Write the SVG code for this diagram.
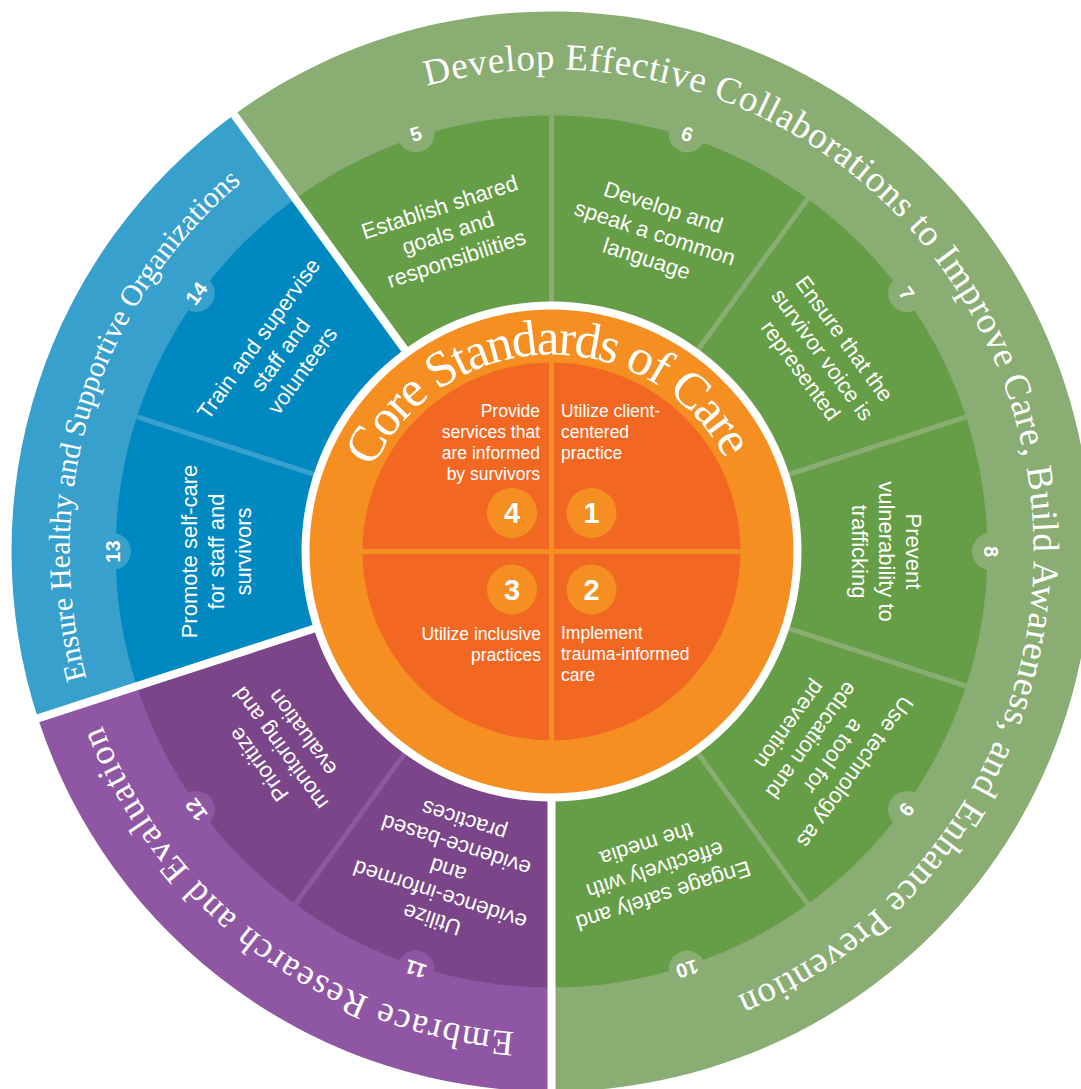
<svg xmlns="http://www.w3.org/2000/svg" width="1081" height="1089" viewBox="0 0 1081 1089">
<style>
.seg{font-family:"Liberation Sans",Arial,sans-serif;font-size:22px;fill:#fff;text-anchor:middle}
.num{font-family:"Liberation Sans",Arial,sans-serif;font-weight:bold;font-size:20px;fill:#fff;text-anchor:middle}
.inn{font-family:"Liberation Sans",Arial,sans-serif;font-size:17.5px;fill:#fff}
.bnum{font-family:"Liberation Sans",Arial,sans-serif;font-weight:bold;font-size:29px;fill:#fff;text-anchor:middle}
.arc{font-family:"Liberation Serif","DejaVu Serif",serif;fill:#fff;font-size:37px}
.core{font-family:"Liberation Serif","DejaVu Serif",serif;fill:#fff;font-size:51px}
.gO{fill:#8AAD74}.gM{fill:#669E47}.pO{fill:#8F57A3}.pM{fill:#7A4689}.bO{fill:#38A0CC}.bM{fill:#0089C1}
.lg{stroke:#8AAD74;stroke-width:5}.lp{stroke:#8F57A3;stroke-width:5}.lb{stroke:#38A0CC;stroke-width:5}
.wsep{stroke:#fff;stroke-width:8}
</style>
<defs>
<path id="pGreen" d="M426.75 85.92 A482 482 0 0 1 700.45 1009.91"/>
<path id="pPurple" d="M514.52 1032.08 A482 482 0 0 1 93.09 700.45"/>
<path id="pBlue" d="M86.58 678.69 A482 482 0 0 1 268.19 161.55"/>
<path id="pCore" d="M372.96 468.24 A197 197 0 0 1 745.51 517.29"/>
</defs>
<rect width="1081" height="1089" fill="#fff"/>
<g id="outer-ring">
<path class="gO" d="M551.5 551.5 L234.09 114.63 A540 540 0 1 1 551.5 1091.5 Z"/>
<path class="pO" d="M551.5 551.5 L551.5 1091.5 A540 540 0 0 1 37.93 718.37 Z"/>
<path class="bO" d="M551.5 551.5 L37.93 718.37 A540 540 0 0 1 234.09 114.63 Z"/>
</g>
<g id="middle-ring">
<path class="gM" d="M551.5 551.5 L295.22 198.77 A436 436 0 1 1 551.5 987.5 Z"/>
<path class="pM" d="M551.5 551.5 L551.5 987.5 A436 436 0 0 1 136.84 686.23 Z"/>
<path class="bM" d="M551.5 551.5 L136.84 686.23 A436 436 0 0 1 295.22 198.77 Z"/>
</g>
<g id="connectors">
<line class="lg" x1="551.5" y1="551.5" x2="551.5" y2="115.5"/>
<line class="lg" x1="551.5" y1="551.5" x2="807.78" y2="198.77"/>
<line class="lg" x1="551.5" y1="551.5" x2="966.16" y2="416.77"/>
<line class="lg" x1="551.5" y1="551.5" x2="966.16" y2="686.23"/>
<line class="lg" x1="551.5" y1="551.5" x2="807.78" y2="904.23"/>
<line class="lp" x1="551.5" y1="551.5" x2="295.22" y2="904.23"/>
<line class="lb" x1="551.5" y1="551.5" x2="136.84" y2="416.77"/>
<line class="wsep" x1="551.5" y1="551.5" x2="231.15" y2="110.58"/>
<line class="wsep" x1="551.5" y1="551.5" x2="551.5" y2="1096.5"/>
<line class="wsep" x1="551.5" y1="551.5" x2="33.17" y2="719.92"/>
</g>
<g id="ring-titles">
<text class="arc"><textPath href="#pGreen" textLength="1450" lengthAdjust="spacing">Develop Effective Collaborations to Improve Care, Build Awareness, and Enhance Prevention</textPath></text>
<text class="arc" style="font-size:36px"><textPath href="#pPurple" textLength="542" lengthAdjust="spacing">Embrace Research and Evaluation</textPath></text>
<text class="arc" style="font-size:30px"><textPath href="#pBlue" textLength="549" lengthAdjust="spacing">Ensure Healthy and Supportive Organizations</textPath></text>
</g>
<g id="seg5"><g transform="translate(415.84,133.98) rotate(-18)"><circle r="18.5" class="gO"/><text class="num" y="7">5</text></g>
<g transform="translate(447.98,232.89) rotate(-18)"><text class="seg" y="-19.5">Establish shared</text><text class="seg" y="7.5">goals and</text><text class="seg" y="34.5">responsibilities</text></g></g>
<g id="seg6"><g transform="translate(687.16,133.98) rotate(18)"><circle r="18.5" class="gO"/><text class="num" y="7">6</text></g>
<g transform="translate(655.02,232.89) rotate(18)"><text class="seg" y="-19.5">Develop and</text><text class="seg" y="7.5">speak a common</text><text class="seg" y="34.5">language</text></g></g>
<g id="seg7"><g transform="translate(906.66,293.46) rotate(54)"><circle r="18.5" class="gO"/><text class="num" y="7">7</text></g>
<g transform="translate(822.52,354.59) rotate(54)"><text class="seg" y="-19.5">Ensure that the</text><text class="seg" y="7.5">survivor voice is</text><text class="seg" y="34.5">represented</text></g></g>
<g id="seg8"><g transform="translate(990.5,551.5) rotate(90)"><circle r="18.5" class="gO"/><text class="num" y="7">8</text></g>
<g transform="translate(886.5,551.5) rotate(90)"><text class="seg" y="-19.5">Prevent</text><text class="seg" y="7.5">vulnerability to</text><text class="seg" y="34.5">trafficking</text></g></g>
<g id="seg9"><g transform="translate(906.66,809.54) rotate(126)"><circle r="18.5" class="gO"/><text class="num" y="7">9</text></g>
<g transform="translate(822.52,748.41) rotate(126)"><text class="seg" y="-33">Use technology as</text><text class="seg" y="-6">a tool for</text><text class="seg" y="21">education and</text><text class="seg" y="48">prevention</text></g></g>
<g id="seg10"><g transform="translate(687.16,969.02) rotate(162)"><circle r="18.5" class="gO"/><text class="num" y="7">10</text></g>
<g transform="translate(655.02,870.11) rotate(162)"><text class="seg" y="-19.5">Engage safely and</text><text class="seg" y="7.5">effectively with</text><text class="seg" y="34.5">the media</text></g></g>
<g id="seg11"><g transform="translate(415.84,969.02) rotate(198)"><circle r="18.5" class="pO"/><text class="num" y="7">11</text></g>
<g transform="translate(447.98,870.11) rotate(198)"><text class="seg" y="-44.5">Utilize</text><text class="seg" y="-18.5">evidence-informed</text><text class="seg" y="7.5">and</text><text class="seg" y="33.5">evidence-based</text><text class="seg" y="59.5">practices</text></g></g>
<g id="seg12"><g transform="translate(196.34,809.54) rotate(234)"><circle r="18.5" class="pO"/><text class="num" y="7">12</text></g>
<g transform="translate(280.48,748.41) rotate(234)"><text class="seg" y="-19.5">Prioritize</text><text class="seg" y="7.5">monitoring and</text><text class="seg" y="34.5">evaluation</text></g></g>
<g id="seg13"><g transform="translate(112.5,551.5) rotate(270)"><circle r="18.5" class="bO"/><text class="num" y="7">13</text></g>
<g transform="translate(216.5,551.5) rotate(270)"><text class="seg" y="-19.5">Promote self-care</text><text class="seg" y="7.5">for staff and</text><text class="seg" y="34.5">survivors</text></g></g>
<g id="seg14"><g transform="translate(196.34,293.46) rotate(306)"><circle r="18.5" class="bO"/><text class="num" y="7">14</text></g>
<g transform="translate(280.48,354.59) rotate(306)"><text class="seg" y="-19.5">Train and supervise</text><text class="seg" y="7.5">staff and</text><text class="seg" y="34.5">volunteers</text></g></g>
<g id="core">
<circle cx="551.5" cy="551.5" r="250" fill="#fff"/>
<circle cx="551.5" cy="551.5" r="242" fill="#F58F21"/>
<circle cx="551.5" cy="551.5" r="189" fill="#F26823"/>
<rect x="549" y="360" width="5" height="383" fill="#F58F21"/>
<rect x="360" y="549" width="383" height="5" fill="#F58F21"/>
<text class="core"><textPath href="#pCore" textLength="437" lengthAdjust="spacing">Core Standards of Care</textPath></text>
</g>
<g id="std4"><circle cx="512" cy="513" r="25" fill="#F58F21"/><text class="bnum" x="512" y="523">4</text>
<text class="inn" text-anchor="end"><tspan x="540" y="417">Provide</tspan><tspan x="540" y="438">services that</tspan><tspan x="540" y="459">are informed</tspan><tspan x="540" y="480">by survivors</tspan></text></g>
<g id="std1"><circle cx="591.5" cy="513" r="25" fill="#F58F21"/><text class="bnum" x="591.5" y="523">1</text>
<text class="inn"><tspan x="561" y="417">Utilize client-</tspan><tspan x="561" y="438">centered</tspan><tspan x="561" y="459">practice</tspan></text></g>
<g id="std3"><circle cx="512" cy="589.5" r="25" fill="#F58F21"/><text class="bnum" x="512" y="599.5">3</text>
<text class="inn" text-anchor="end"><tspan x="541" y="640">Utilize inclusive</tspan><tspan x="541" y="661">practices</tspan></text></g>
<g id="std2"><circle cx="591.5" cy="589.5" r="25" fill="#F58F21"/><text class="bnum" x="591.5" y="599.5">2</text>
<text class="inn"><tspan x="561" y="639">Implement</tspan><tspan x="561" y="660">trauma-informed</tspan><tspan x="561" y="681">care</tspan></text></g>
</svg>
